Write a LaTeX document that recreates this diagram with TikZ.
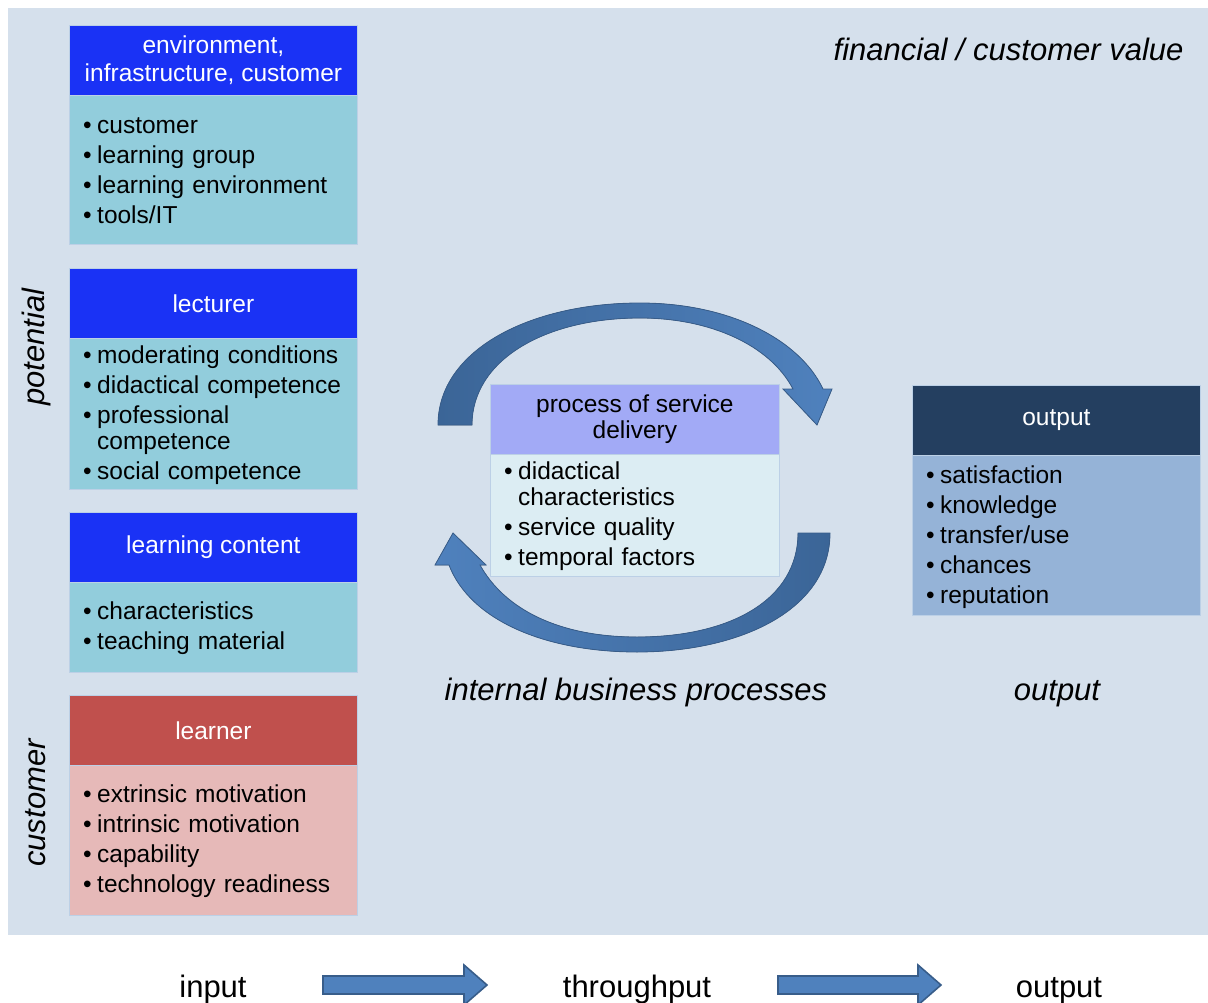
\documentclass[tikz,border=0pt]{standalone}
\usepackage{fontspec}
\setmainfont{Liberation Sans}
\definecolor{panel}{HTML}{D5E0EC}
\definecolor{hdrblue}{HTML}{1A32F5}
\definecolor{aqua}{HTML}{92CDDC}
\definecolor{redhdr}{HTML}{C0504D}
\definecolor{redbody}{HTML}{E6B9B8}
\definecolor{lavender}{HTML}{A2AAF6}
\definecolor{paleaqua}{HTML}{DCEDF3}
\definecolor{navy}{HTML}{243F60}
\definecolor{steel}{HTML}{95B3D7}
\definecolor{edge}{HTML}{BCD0E6}
\definecolor{arrowfill}{HTML}{4F81BD}
\definecolor{arrowdark}{HTML}{3B6597}
\definecolor{arrowline}{HTML}{385D8A}
% bullet item, and a bullet item that runs over two lines
\newcommand{\bitem}[1]{\par\noindent\strut\makebox[15pt][l]{\hspace{1pt}•}#1\strut}
\newcommand{\bitemtwo}[2]{\bitem{#1}\par{\setlength{\parskip}{0pt}\noindent\hspace*{15pt}\strut#2\strut\par}}
\begin{document}
\begin{tikzpicture}[x=1pt,y=-1pt,
  hdr/.style={draw=edge, line width=0.8pt, anchor=north west, inner sep=0pt,
    minimum width=288pt, minimum height=70pt, align=center, text=white,
    font=\fontsize{24.5}{28}\selectfont},
  bodybox/.style={draw=edge, line width=0.8pt, anchor=north west, inner sep=0pt,
    minimum width=288pt},
  bodytxt/.style={anchor=north west, inner sep=0pt, text width=275pt, align=left,
    font=\fontsize{24.5}{26}\selectfont,
    execute at begin node={\setlength{\parskip}{4pt}}},
  lbl/.style={font=\fontsize{31}{34}\selectfont\itshape},
  flow/.style={font=\fontsize{31}{34}\selectfont},
  curved/.style={draw=arrowline, line width=0.8pt},
  block/.style={fill=arrowfill, draw=arrowline, line width=1.6pt}
]
\useasboundingbox (0,0) rectangle (1208,1003);
\fill[white] (0,0) rectangle (1208,1003);
\fill[panel] (8,8) rectangle (1208,935);

% ---- input column ----
\node[hdr, fill=hdrblue] (h1) at (69,25) {environment,\\infrastructure, customer};
\node[bodybox, fill=aqua, minimum height=149pt] (b1) at (69,95) {};
\node[bodytxt] (t1) at (82,103) {\bitem{customer}\bitem{learning group}\bitem{learning environment}\bitem{tools/IT}};

\node[hdr, fill=hdrblue] (h2) at (69,268) {lecturer};
\node[bodybox, fill=aqua, minimum height=151pt] (b2) at (69,338) {};
\node[bodytxt] (t2) at (82,333) {\bitem{moderating conditions}\bitem{didactical competence}\bitemtwo{professional}{competence}\bitem{social competence}};

\node[hdr, fill=hdrblue] (h3) at (69,512) {learning content};
\node[bodybox, fill=aqua, minimum height=90pt] (b3) at (69,582) {};
\node[bodytxt] (t3) at (82,589) {\bitem{characteristics}\bitem{teaching material}};

\node[hdr, fill=redhdr] (h4) at (69,695) {learner};
\node[bodybox, fill=redbody, minimum height=150pt] (b4) at (69,765) {};
\node[bodytxt] (t4) at (82,772) {\bitem{extrinsic motivation}\bitem{intrinsic motivation}\bitem{capability}\bitem{technology readiness}};

% ---- throughput ----
\fill[left color=arrowdark, right color=arrowfill, curved]
  (438,425) .. controls (438,350) and (530,303) .. (640,303)
  .. controls (730,303) and (800,340) .. (823,389)
  -- (832,389) -- (817,425) -- (783,389) -- (793,389)
  .. controls (770,345) and (710,318) .. (640,318)
  .. controls (545,318) and (472,360) .. (472,425) -- cycle;
\fill[left color=arrowfill, right color=arrowdark, curved]
  (830,533) .. controls (830,610) and (740,652) .. (637,652)
  .. controls (545,652) and (470,620) .. (449,565)
  -- (435,565) -- (453,533) -- (486,565) -- (480,565)
  .. controls (505,610) and (560,637) .. (637,637)
  .. controls (730,637) and (798,600) .. (798,533) -- cycle;

\node[hdr, fill=lavender, text=black, minimum width=289pt, font=\fontsize{24.5}{26}\selectfont] (hc) at (490,384) {process of service\\delivery};
\node[bodybox, fill=paleaqua, minimum width=289pt, minimum height=122pt] (bc) at (490,454) {};
\node[bodytxt] (tc) at (503,449) {\bitemtwo{didactical}{characteristics}\bitem{service quality}\bitem{temporal factors}};

% ---- output ----
\node[hdr, fill=navy] (ho) at (912,385) {output};
\node[bodybox, fill=steel, minimum height=160pt] (bo) at (912,455) {};
\node[bodytxt] (to) at (925,453) {\bitem{satisfaction}\bitem{knowledge}\bitem{transfer/use}\bitem{chances}\bitem{reputation}};

% ---- perspective labels ----
\node[lbl, anchor=base east] (fin) at (1187,61) {financial / customer value};
\node[lbl, rotate=90] (pot) at (36,347) {potential};
\node[lbl, rotate=90] (cus) at (36,803) {customer};
\node[lbl, anchor=base] (ibp) at (636,700) {internal business processes};
\node[lbl, anchor=base] (out) at (1057,700) {output};

% ---- flow along the bottom ----
\node[flow, anchor=base] (fin1) at (213,997) {input};
\node[flow, anchor=base] (fin2) at (637,997) {throughput};
\node[flow, anchor=base] (fin3) at (1059,997) {output};
\path[block] (323,976) -- (464,976) -- (464,965) -- (487,985) -- (464,1005)
  -- (464,994) -- (323,994) -- cycle;
\path[block] (778,976) -- (918,976) -- (918,965) -- (941,985) -- (918,1005)
  -- (918,994) -- (778,994) -- cycle;
\end{tikzpicture}
\end{document}
